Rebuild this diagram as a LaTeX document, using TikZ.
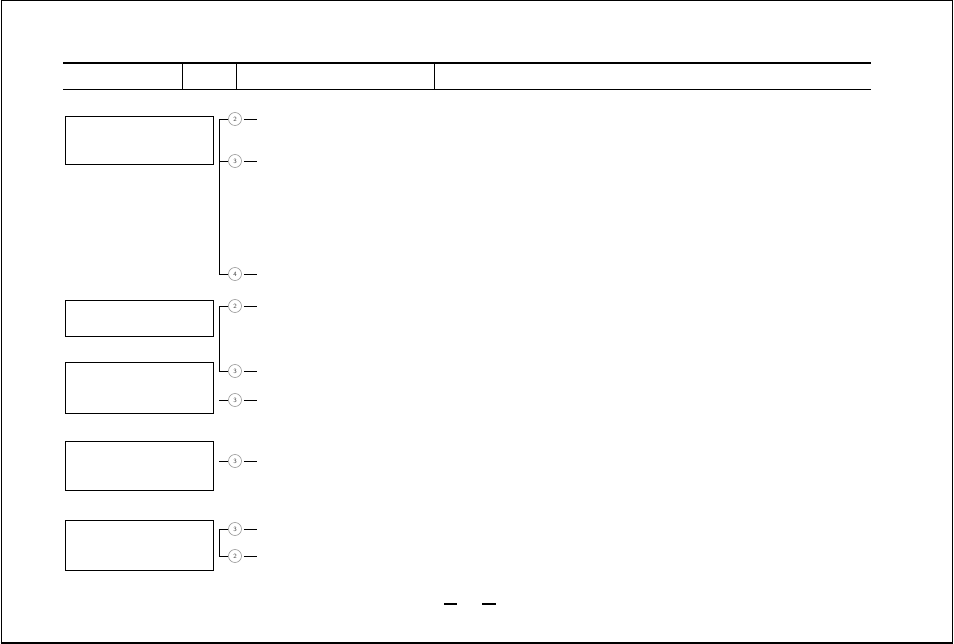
\documentclass[tikz,border=0pt]{standalone}
\usepackage{tikz}

\tikzset{
    entry/.style={draw, line width=0.9pt, minimum width=148pt, minimum height=#1, inner sep=0pt, anchor=north west},
    num/.style={circle, draw=gray!80, line width=0.6pt, minimum size=13pt, inner sep=0pt, text=black!75, font=\sffamily\fontsize{6.5}{6.5}\selectfont},
    lead/.style={line width=0.9pt}
}

\begin{document}
\begin{tikzpicture}[x=1pt, y=-1pt]
    \useasboundingbox (0,0) rectangle (954,644);

    % Frame
    \draw[line width=1pt] (952,642) -- (952,1) -- (1.5,1) -- (1.5,642);
    \draw[line width=2pt] (0.5,642.5) -- (953,642.5);

    % Header
    \draw[line width=2.2pt] (63,63) -- (871,63);
    \draw[line width=0.9pt] (63,89) -- (871,89);
    \draw[line width=0.9pt] (182,63) -- (182,89);
    \draw[line width=0.9pt] (236,63) -- (236,89);
    \draw[line width=0.9pt] (434,63) -- (434,89);

    % Boxes
    \node[entry=48pt] (b1) at (65,116) {};
    \node[entry=36pt] (b2) at (65,300) {};
    \node[entry=51pt] (b3) at (65,362) {};
    \node[entry=49pt] (b4) at (65,441) {};
    \node[entry=50pt] (b5) at (65,520) {};

    % Numbered marks
    \coordinate (spine) at (219,0);
    \foreach \n/\y/\t in {1/119/2, 2/161/3, 3/274/4, 4/306/2, 5/371/3, 6/400/3, 7/461/3, 8/529/3, 9/556/2} {
        \node[num] (c\n) at (235,\y) {\t};
        \coordinate (e\n) at (257,\y);
        \draw[lead] ([xshift=2pt]c\n.east) -- (e\n);
    }

    % Brackets
    \draw[lead] (c1.west) -- (c1.west -| spine) |- (c3.west);
    \draw[lead] (c2.west) -- (c2.west -| spine);
    \draw[lead] (c4.west) -- (c4.west -| spine) |- (c5.west);
    \draw[lead] (c6.west) -- (c6.west -| spine);
    \draw[lead] (c7.west) -- (c7.west -| spine);
    \draw[lead] (c8.west) -- (c8.west -| spine) |- (c9.west);

    % Bottom marks
    \draw[line width=1.2pt] (444,604) -- (457,604);
    \draw[line width=1.2pt] (482,604) -- (496,604);
\end{tikzpicture}
\end{document}
